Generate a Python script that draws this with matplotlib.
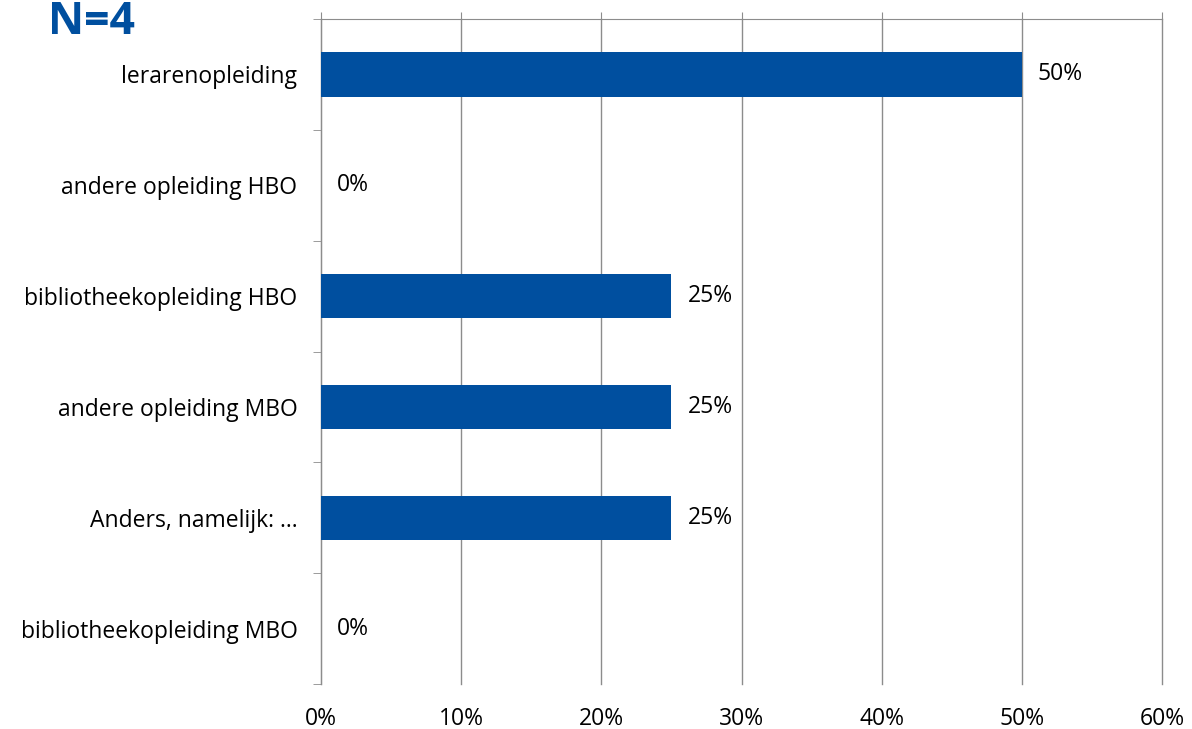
import matplotlib.pyplot as plt
import numpy as np

categories = ['lerarenopleiding', 'andere opleiding HBO', 'bibliotheekopleiding HBO',
              'andere opleiding MBO', 'Anders, namelijk: ...', 'bibliotheekopleiding MBO']
values = [50, 0, 25, 25, 25, 0]
xticks = [0, 10, 20, 30, 40, 50, 60]

plt.rcParams['font.family'] = ['Open Sans', 'DejaVu Sans']

fig = plt.figure(figsize=(11.92, 7.29), dpi=100)
ax = fig.add_axes([321 / 1192, 1 - 684 / 729, (1162 - 321) / 1192, (684 - 19) / 729])

y = np.arange(len(categories))
ax.barh(y, values, height=0.4, color='#004f9f', zorder=3)
for yi, v in zip(y, values):
    ax.annotate(f'{v}%', (v, yi), xytext=(11.5, 0), textcoords='offset points',
                va='center', ha='left', fontsize=16.5, color='#000000')

ax.set_xlim(0, 60)
ax.set_ylim(len(categories) - 0.5, -0.5)
ax.set_xticks(xticks)
ax.set_xticklabels([f'{t}%' for t in xticks], fontsize=16.5)
ax.set_yticks(y)
ax.set_yticklabels(categories, fontsize=16.5)
ax.set_yticks(np.arange(len(categories) + 1) - 0.5, minor=True)

ax.grid(axis='x', color='#8c8c8c', linewidth=1, zorder=0)
for gl in ax.xaxis.get_gridlines():
    gl.set_clip_on(False)
for s in ['right', 'bottom']:
    ax.spines[s].set_visible(False)
ax.spines['top'].set_color('#8c8c8c')
ax.spines['left'].set_color('#8c8c8c')

ax.tick_params(axis='x', which='major', bottom=False, top=True, labelbottom=True,
               labeltop=False, length=5, color='#8c8c8c', direction='out', pad=11.5)
ax.tick_params(axis='y', which='major', length=0, pad=17)
ax.tick_params(axis='y', which='minor', length=6, color='#8c8c8c')

fig.text(48 / 1192, 1 - 34 / 729, 'N=4', fontsize=32, fontweight='bold',
         color='#004f9f', ha='left', va='baseline')

fig.savefig('out.png', dpi=100)
